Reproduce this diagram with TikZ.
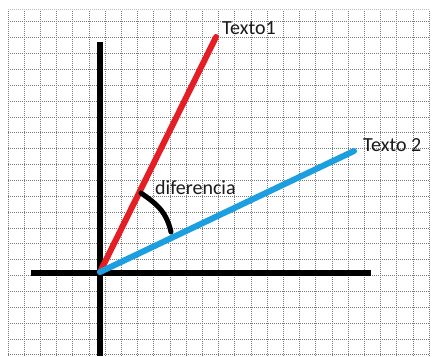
\documentclass[tikz,border=0pt]{standalone}
\usepackage{fontspec}
\setmainfont{Carlito}
\usetikzlibrary{positioning}
\definecolor{LineRed}{HTML}{E51E25}
\definecolor{LineBlue}{HTML}{1C9FE0}
\definecolor{GridGray}{HTML}{7A7A7A}
\definecolor{LabelDark}{HTML}{1A1A1A}

\begin{document}
\begin{tikzpicture}[x=1pt, y=1pt, font=\fontsize{20}{24}\selectfont,
    gridline/.style={densely dotted, color=GridGray, line width=1pt},
    axisline/.style={line width=6pt, color=black},
    vecline/.style={line width=6pt, line cap=round},
    lbl/.style={anchor=west, inner sep=0pt, text=LabelDark}]
          \useasboundingbox (0,0) rectangle (435,356);
          \fill[white] (0,0) rectangle (435,356);

          % Grid
          \foreach \k in {0,...,26}
            \draw[gridline] (8+16.2*\k,0) -- (8+16.2*\k,346);
          \foreach \k in {0,...,21}
            \draw[gridline] (8,334-15.85*\k) -- (429,334-15.85*\k);
          \draw[gridline, color=GridGray!50] (8,346) -- (429,346);

          % Axes
          \coordinate (O) at (100,84);
          \coordinate (ytop) at (100,314);
          \coordinate (ybot) at (100,0);
          \coordinate (xleft) at (31,83);
          \coordinate (xright) at (371,83);
          \draw[axisline] (ybot) -- (ytop);
          \draw[axisline] (xleft) -- (xright);

          % Vectors
          \coordinate (redend) at (216,319);
          \coordinate (blueend) at (354,205);
          \draw[vecline, color=LineRed] (O) -- (redend);
          \draw[vecline, color=LineBlue] (O) -- (blueend);
          \node[lbl] (texto1) at (222,328) {Texto1};
          \node[lbl] (texto2) at (363,211) {Texto 2};

          % Angle mark
          \coordinate (arcA) at (141,163);
          \coordinate (arcB) at (171,124);
          \draw[line width=5pt, line cap=round] (arcA) .. controls (155,153) and (166,146) .. (arcB);
          \node[lbl] (dif) at (155,168) {diferencia};
        \end{tikzpicture}
\end{document}
